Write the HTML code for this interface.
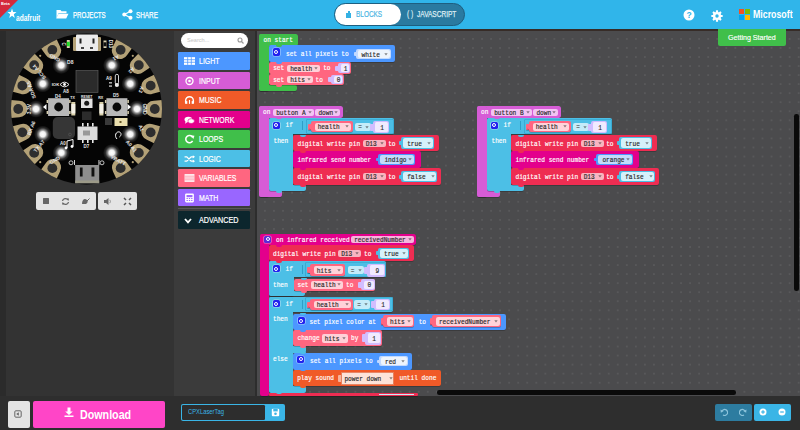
<!DOCTYPE html><html><head><meta charset="utf-8"><style>
html,body{margin:0;padding:0;width:800px;height:430px;overflow:hidden;background:#303030;}
body>div,body>span,body>svg{position:absolute;}
div,span{position:absolute;box-sizing:border-box;}
</style></head><body>
<div style="left:0px;top:0px;width:800px;height:29px;background:#30b5ea;border-radius:0px;"></div>
<svg style="left:0;top:0" width="20" height="20"><polygon points="0,0 18,0 0,18" fill="#d42a3c"/></svg>
<span style="left:1px;top:1px;color:#fff;font-size:4px;font-family:'Liberation Sans', sans-serif;white-space:pre;line-height:6px;height:6px;font-weight:bold;">Beta</span>
<svg style="left:6.8px;top:8.3px" width="10" height="11" viewBox="0 0 14 14" preserveAspectRatio="none"><polygon points="7,0.5 8.6,5 13.3,5.1 9.6,8 10.9,12.6 7,9.9 3.1,12.6 4.4,8 0.7,5.1 5.4,5" fill="#fff"/></svg>
<span style="left:16.2px;top:13.8px;color:#fff;font-size:8.8px;font-family:'Liberation Sans', sans-serif;white-space:pre;line-height:9px;height:9px;font-weight:bold;transform:scaleX(0.75);transform-origin:0 0;">adafruit</span>
<svg style="left:56px;top:9px" width="13" height="10" viewBox="0 0 13 10"><path d="M0.5,1 h4 l1,1.2 h5 v2 h-8 l-2,5 z" fill="#fff"/><path d="M2.5,4.8 h10 l-2.3,4.7 h-10 z" fill="#fff"/></svg>
<span style="left:73.3px;top:9.5px;color:#fff;font-size:8.4px;font-family:'Liberation Sans', sans-serif;white-space:pre;line-height:10px;height:10px;-webkit-text-stroke:0.25px #fff;transform:scaleX(0.73);transform-origin:0 0;">PROJECTS</span>
<svg style="left:122px;top:9px" width="11" height="11" viewBox="0 0 11 11"><circle cx="8.5" cy="2.2" r="2" fill="#fff"/><circle cx="2.3" cy="5.5" r="2" fill="#fff"/><circle cx="8.5" cy="8.8" r="2" fill="#fff"/><path d="M2.3,5.5 L8.5,2.2 M2.3,5.5 L8.5,8.8" stroke="#fff" stroke-width="1.2"/></svg>
<span style="left:136.3px;top:9.5px;color:#fff;font-size:8.4px;font-family:'Liberation Sans', sans-serif;white-space:pre;line-height:10px;height:10px;-webkit-text-stroke:0.25px #fff;transform:scaleX(0.76);transform-origin:0 0;">SHARE</span>
<div style="left:333.5px;top:3px;width:131px;height:23px;background:#2a7aa0;border-radius:11.5px;border:1px solid #1e5f80;"></div>
<div style="left:335px;top:4px;width:66px;height:21px;background:#fff;border-radius:10.5px;"></div>
<svg style="left:345px;top:10px" width="7" height="8" viewBox="0 0 7 8"><path d="M1,3 h2 v-2 h2 v2 h1 v5 h-5 z" fill="#34b1e3"/></svg>
<span style="left:355.9px;top:10px;color:#4db6e4;font-size:8.4px;font-family:'Liberation Sans', sans-serif;white-space:pre;line-height:9px;height:9px;-webkit-text-stroke:0.2px #4db6e4;transform:scaleX(0.77);transform-origin:0 0;">BLOCKS</span>
<span style="left:406.5px;top:10px;color:#dcebf2;font-size:8.4px;font-family:'Liberation Sans', sans-serif;white-space:pre;line-height:9px;height:9px;-webkit-text-stroke:0.2px #dcebf2;transform:scaleX(0.8);transform-origin:0 0;">( )</span>
<span style="left:416.6px;top:10px;color:#dcebf2;font-size:8.4px;font-family:'Liberation Sans', sans-serif;white-space:pre;line-height:9px;height:9px;-webkit-text-stroke:0.25px #dcebf2;transform:scaleX(0.78);transform-origin:0 0;">JAVASCRIPT</span>
<svg style="left:683px;top:9px" width="12" height="12" viewBox="0 0 12 12"><circle cx="6" cy="6" r="5.5" fill="#fff"/><text x="6" y="9.2" font-family="Liberation Sans" font-weight="bold" font-size="8.5" text-anchor="middle" fill="#30b5ea">?</text></svg>
<svg style="left:710.5px;top:9.5px" width="12" height="12" viewBox="0 0 12 12"><rect x="4.9" y="0.3" width="2.2" height="3" rx="0.5" fill="#fff" transform="rotate(0 6 6)"/><rect x="4.9" y="0.3" width="2.2" height="3" rx="0.5" fill="#fff" transform="rotate(45 6 6)"/><rect x="4.9" y="0.3" width="2.2" height="3" rx="0.5" fill="#fff" transform="rotate(90 6 6)"/><rect x="4.9" y="0.3" width="2.2" height="3" rx="0.5" fill="#fff" transform="rotate(135 6 6)"/><rect x="4.9" y="0.3" width="2.2" height="3" rx="0.5" fill="#fff" transform="rotate(180 6 6)"/><rect x="4.9" y="0.3" width="2.2" height="3" rx="0.5" fill="#fff" transform="rotate(225 6 6)"/><rect x="4.9" y="0.3" width="2.2" height="3" rx="0.5" fill="#fff" transform="rotate(270 6 6)"/><rect x="4.9" y="0.3" width="2.2" height="3" rx="0.5" fill="#fff" transform="rotate(315 6 6)"/><circle cx="6" cy="6" r="4.1" fill="#fff"/><circle cx="6" cy="6" r="1.7" fill="#30b5ea"/></svg>
<div style="left:738.5px;top:8.5px;width:5.5px;height:5.5px;background:#f25022;border-radius:0px;"></div>
<div style="left:744.5px;top:8.5px;width:5.5px;height:5.5px;background:#7fba00;border-radius:0px;"></div>
<div style="left:738.5px;top:14.5px;width:5.5px;height:5.5px;background:#00a4ef;border-radius:0px;"></div>
<div style="left:744.5px;top:14.5px;width:5.5px;height:5.5px;background:#ffb900;border-radius:0px;"></div>
<span style="left:752.6px;top:8.4px;color:#fff;font-size:11px;font-family:'Liberation Sans', sans-serif;white-space:pre;line-height:12px;height:12px;font-weight:bold;transform:scaleX(0.8);transform-origin:0 0;">Microsoft</span>
<div style="left:0px;top:29px;width:174px;height:367px;background:#333;border-radius:0px;"></div>
<div style="left:0px;top:29px;width:6px;height:367px;background:#2b2b2b;border-radius:0px;"></div>
<div style="left:174px;top:29px;width:81px;height:367px;background:#3b3b3b;border-radius:0px;"></div>
<div style="left:254.8px;top:29px;width:2.2px;height:367px;background:#2d2d2d;border-radius:0px;"></div>
<div style="left:257px;top:29px;width:543px;height:366.5px;background:#4b4b4d;border-radius:0px;background-image:radial-gradient(circle, rgba(255,255,255,0.075) 0.7px, transparent 1px);background-size:9.05px 9.05px;background-position:3.4px 5.4px;"></div>
<div style="left:0px;top:29px;width:800px;height:1.7px;background:#372c27;border-radius:0px;"></div>
<div style="left:181px;top:33px;width:67px;height:15px;background:#fff;border-radius:7.5px;"></div>
<span style="left:187px;top:37px;color:#c4c4c4;font-size:5.6px;font-family:'Liberation Sans', sans-serif;white-space:pre;line-height:7px;height:7px;">Search...</span>
<svg style="left:237px;top:37px" width="7" height="7" viewBox="0 0 7 7"><circle cx="3" cy="3" r="2" stroke="#999" stroke-width="1.1" fill="none"/><path d="M4.4,4.4 L6.5,6.5" stroke="#999" stroke-width="1.2"/></svg>
<div style="left:178.3px;top:52.0px;width:72px;height:17.5px;background:#4c97ff;border-radius:1.2px;"></div>
<span style="left:199.2px;top:57.0px;color:#fff;font-size:8.6px;font-family:'Liberation Sans', sans-serif;white-space:pre;line-height:9px;height:9px;-webkit-text-stroke:0.2px #fff;transform:scaleX(0.8133999999999999);transform-origin:0 0;">LIGHT</span>
<svg style="left:183.5px;top:57.3px" width="11" height="8" viewBox="0 0 10 7" overflow="visible"><rect x="0" y="0" width="10" height="7" fill="#fff"/><path d="M0,2.33 H10 M0,4.66 H10 M3.33,0 V7 M6.66,0 V7" stroke="#4c97ff" stroke-width="0.7"/></svg>
<div style="left:178.3px;top:71.5px;width:72px;height:17.5px;background:#d65cd6;border-radius:1.2px;"></div>
<span style="left:199.2px;top:76.5px;color:#fff;font-size:8.6px;font-family:'Liberation Sans', sans-serif;white-space:pre;line-height:9px;height:9px;-webkit-text-stroke:0.2px #fff;transform:scaleX(0.8133999999999999);transform-origin:0 0;">INPUT</span>
<svg style="left:183.5px;top:76.8px" width="11" height="8" viewBox="0 0 10 7" overflow="visible"><circle cx="5" cy="3.5" r="3.2" fill="none" stroke="#fff" stroke-width="1.2"/><circle cx="5" cy="3.5" r="1.2" fill="#fff"/></svg>
<div style="left:178.3px;top:91.0px;width:72px;height:17.5px;background:#f05a28;border-radius:1.2px;"></div>
<span style="left:199.2px;top:96.0px;color:#fff;font-size:8.6px;font-family:'Liberation Sans', sans-serif;white-space:pre;line-height:9px;height:9px;-webkit-text-stroke:0.2px #fff;transform:scaleX(0.8133999999999999);transform-origin:0 0;">MUSIC</span>
<svg style="left:183.5px;top:96.3px" width="11" height="8" viewBox="0 0 10 7" overflow="visible"><path d="M1.5,6 V4 A3.5,3.5 0 0 1 8.5,4 V6" fill="none" stroke="#fff" stroke-width="1.3"/><rect x="1" y="4.5" width="2" height="2.5" fill="#fff"/><rect x="7" y="4.5" width="2" height="2.5" fill="#fff"/><path d="M5,3.5 V7" stroke="#fff" stroke-width="1"/></svg>
<div style="left:178.3px;top:110.5px;width:72px;height:17.5px;background:#e3008c;border-radius:1.2px;"></div>
<span style="left:199.2px;top:115.5px;color:#fff;font-size:8.6px;font-family:'Liberation Sans', sans-serif;white-space:pre;line-height:9px;height:9px;-webkit-text-stroke:0.2px #fff;transform:scaleX(0.8036);transform-origin:0 0;">NETWORK</span>
<svg style="left:183.5px;top:115.8px" width="11" height="8" viewBox="0 0 10 7" overflow="visible"><ellipse cx="4" cy="3" rx="3.5" ry="2.5" fill="#fff"/><ellipse cx="6.5" cy="4.5" rx="3" ry="2.2" fill="#fff" stroke="#e3008c" stroke-width="0.6"/><polygon points="1.5,4.5 1,7 3.5,5" fill="#fff"/></svg>
<div style="left:178.3px;top:130.0px;width:72px;height:17.5px;background:#40bf4a;border-radius:1.2px;"></div>
<span style="left:199.2px;top:135.0px;color:#fff;font-size:8.6px;font-family:'Liberation Sans', sans-serif;white-space:pre;line-height:9px;height:9px;-webkit-text-stroke:0.2px #fff;transform:scaleX(0.8133999999999999);transform-origin:0 0;">LOOPS</span>
<svg style="left:183.5px;top:135.3px" width="11" height="8" viewBox="0 0 10 7" overflow="visible"><path d="M7.8,2 A3.3,3.3 0 1 0 7.8,5.2" fill="none" stroke="#fff" stroke-width="1.4"/><polygon points="6,0 9.5,0.5 8.5,3.5" fill="#fff"/></svg>
<div style="left:178.3px;top:149.5px;width:72px;height:17.5px;background:#4cbfe6;border-radius:1.2px;"></div>
<span style="left:199.2px;top:154.5px;color:#fff;font-size:8.6px;font-family:'Liberation Sans', sans-serif;white-space:pre;line-height:9px;height:9px;-webkit-text-stroke:0.2px #fff;transform:scaleX(0.8133999999999999);transform-origin:0 0;">LOGIC</span>
<svg style="left:183.5px;top:154.8px" width="11" height="8" viewBox="0 0 10 7" overflow="visible"><path d="M0.5,1.5 H2.5 L6.5,5.5 H8.5 M0.5,5.5 H2.5 L6.5,1.5 H8.5" fill="none" stroke="#fff" stroke-width="1.2"/><polygon points="8,0 10,1.5 8,3" fill="#fff"/><polygon points="8,4 10,5.5 8,7" fill="#fff"/></svg>
<div style="left:178.3px;top:169.0px;width:72px;height:17.5px;background:#ff6680;border-radius:1.2px;"></div>
<span style="left:199.2px;top:174.0px;color:#fff;font-size:8.6px;font-family:'Liberation Sans', sans-serif;white-space:pre;line-height:9px;height:9px;-webkit-text-stroke:0.2px #fff;transform:scaleX(0.7938000000000001);transform-origin:0 0;">VARIABLES</span>
<svg style="left:183.5px;top:174.3px" width="11" height="8" viewBox="0 0 10 7" overflow="visible"><rect x="0.5" y="0" width="9" height="7" fill="#fff"/><path d="M0.5,1.8 H9.5 M0.5,3.5 H9.5 M0.5,5.2 H9.5" stroke="#ff6680" stroke-width="0.6"/></svg>
<div style="left:178.3px;top:188.5px;width:72px;height:17.5px;background:#9966ff;border-radius:1.2px;"></div>
<span style="left:199.2px;top:193.5px;color:#fff;font-size:8.6px;font-family:'Liberation Sans', sans-serif;white-space:pre;line-height:9px;height:9px;-webkit-text-stroke:0.2px #fff;transform:scaleX(0.8133999999999999);transform-origin:0 0;">MATH</span>
<svg style="left:183.5px;top:193.8px" width="11" height="8" viewBox="0 0 10 7" overflow="visible"><rect x="1" y="-0.5" width="8" height="8" rx="1" fill="#fff"/><rect x="2.3" y="0.8" width="5.4" height="2" fill="#9966ff"/><path d="M2.3,4 h1.2 M4.4,4 h1.2 M6.5,4 h1.2 M2.3,5.8 h1.2 M4.4,5.8 h1.2 M6.5,5.8 h1.2" stroke="#9966ff" stroke-width="0.9"/></svg>
<div style="left:178px;top:208px;width:72.5px;height:1.3px;background:#585858;border-radius:0px;"></div>
<div style="left:178.3px;top:211.2px;width:72px;height:17.8px;background:#0c262d;border-radius:1.2px;"></div>
<span style="left:199px;top:216.2px;color:#fff;font-size:8.6px;font-family:'Liberation Sans', sans-serif;white-space:pre;line-height:9px;height:9px;-webkit-text-stroke:0.2px #fff;transform:scaleX(0.84);transform-origin:0 0;">ADVANCED</span>
<svg style="left:183.5px;top:217.5px" width="8" height="6" viewBox="0 0 8 6"><path d="M1,1 L4,4.3 L7,1" stroke="#fff" stroke-width="1.8" fill="none"/></svg>
<div style="left:35.5px;top:191.5px;width:60px;height:18.5px;background:#e4e4e4;border-radius:2px;"></div>
<div style="left:97.5px;top:191.5px;width:39.5px;height:18.5px;background:#e4e4e4;border-radius:2px;"></div>
<div style="left:42.5px;top:198px;width:6px;height:6px;background:#666;border-radius:0.5px;"></div>
<svg style="left:61px;top:197px" width="9" height="9" viewBox="0 0 9 9"><path d="M1.5,4 A3,3 0 0 1 7,3" stroke="#666" stroke-width="1.3" fill="none"/><path d="M7.5,5 A3,3 0 0 1 2,6" stroke="#666" stroke-width="1.3" fill="none"/><polygon points="5.5,1.5 8,1.5 7.5,4" fill="#666"/><polygon points="3.5,7.5 1,7.5 1.5,5" fill="#666"/></svg>
<svg style="left:81px;top:197px" width="9" height="8" viewBox="0 0 9 8"><path d="M1,7 C1,2 4,1 6,3 C7,4 7,6 5,7 z" fill="#666"/><path d="M6,4 L8.5,1.5" stroke="#666" stroke-width="1"/></svg>
<svg style="left:103px;top:197px" width="9" height="9" viewBox="0 0 9 9"><polygon points="1,3 3,3 5.5,1 5.5,8 3,6 1,6" fill="#666"/><path d="M6.8,2.8 Q8,4.5 6.8,6.2" stroke="#888" stroke-width="0.9" fill="none"/></svg>
<svg style="left:123px;top:197px" width="9" height="9" viewBox="0 0 9 9"><path d="M1,1 L3,3 M8,1 L6,3 M1,8 L3,6 M8,8 L6,6" stroke="#555" stroke-width="1.5"/></svg>
<div style="left:0px;top:395.5px;width:800px;height:34.5px;background:#2e2e2e;border-radius:0px;"></div>
<div style="left:7.5px;top:401px;width:22px;height:27px;background:#e4e4e4;border-radius:2px;"></div>
<svg style="left:14px;top:410px" width="8" height="8" viewBox="0 0 8 8"><rect x="0.8" y="0.8" width="6.4" height="6.4" rx="1" stroke="#666" stroke-width="1" fill="none"/><polygon points="2.2,4 4.8,2.2 4.8,5.8" fill="#666"/></svg>
<div style="left:32.5px;top:401px;width:132px;height:27px;background:#ff45c7;border-radius:2px;"></div>
<svg style="left:64px;top:407px" width="10" height="10" viewBox="0 0 10 10"><path d="M3.5,0.5 h3 v4 h2.3 L5,8 L1.2,4.5 h2.3 z" fill="#fff"/><rect x="0.5" y="8.5" width="9" height="1.5" fill="#fff"/></svg>
<span style="left:79.9px;top:407.5px;color:#fff;font-size:11.9px;font-family:'Liberation Sans', sans-serif;white-space:pre;line-height:14px;height:14px;font-weight:bold;transform:scaleX(0.9);transform-origin:0 0;">Download</span>
<div style="left:181px;top:403.5px;width:103.5px;height:17.5px;background:#3ab5e6;border-radius:2px;"></div>
<div style="left:182.3px;top:404.8px;width:82.5px;height:14.9px;background:#2d2d2d;border-radius:1.3px;"></div>
<span style="left:188px;top:408px;color:#3ab5e6;font-size:7.2px;font-family:'Liberation Sans', sans-serif;white-space:pre;line-height:8px;height:8px;transform:scaleX(0.81);transform-origin:0 0;">CPXLaserTag</span>
<svg style="left:270.5px;top:407.5px" width="9" height="9" viewBox="0 0 9 9"><rect x="0.8" y="0.8" width="7.4" height="7.4" rx="1" fill="#fff"/><rect x="2.3" y="0.8" width="4.4" height="2.6" fill="#3ab5e6"/><circle cx="4.5" cy="5.8" r="1.3" fill="#3ab5e6"/></svg>
<div style="left:715px;top:403.5px;width:37px;height:17px;background:#2d7ca0;border-radius:2px;"></div>
<div style="left:754px;top:403.5px;width:37px;height:17px;background:#3ab5e6;border-radius:2px;"></div>
<svg style="left:720px;top:408px" width="8" height="8" viewBox="0 0 8 8"><path d="M2,3 A3,3 0 1 1 3,7" stroke="#8cc4dc" stroke-width="1.2" fill="none"/><polygon points="0.5,1.5 3.5,3.2 0.8,4.8" fill="#8cc4dc"/></svg>
<svg style="left:739px;top:408px" width="8" height="8" viewBox="0 0 8 8"><path d="M6,3 A3,3 0 1 0 5,7" stroke="#8cc4dc" stroke-width="1.2" fill="none"/><polygon points="7.5,1.5 4.5,3.2 7.2,4.8" fill="#8cc4dc"/></svg>
<svg style="left:759px;top:408px" width="8" height="8" viewBox="0 0 8 8"><circle cx="4" cy="4" r="3.5" fill="#fff"/><rect x="2.2" y="3.4" width="3.6" height="1.2" fill="#3ab5e6"/><rect x="3.4" y="2.2" width="1.2" height="3.6" fill="#3ab5e6"/></svg>
<svg style="left:778px;top:408px" width="8" height="8" viewBox="0 0 8 8"><circle cx="4" cy="4" r="3.5" fill="#fff"/><rect x="2.2" y="3.4" width="3.6" height="1.2" fill="#3ab5e6"/></svg>
<div style="left:718px;top:29px;width:67.5px;height:16.5px;background:#40bf4a;border-radius:0px;border-radius:0 0 2px 2px;"></div>
<span style="left:727.8px;top:32.8px;color:#fff;font-size:7.9px;font-family:'Liberation Sans', sans-serif;white-space:pre;line-height:9px;height:9px;-webkit-text-stroke:0.15px #fff;transform:scaleX(0.9);transform-origin:0 0;">Getting Started</span>
<div style="left:437px;top:390.3px;width:299px;height:4.5px;background:#0a0a0a;border-radius:2.25px;"></div>
<div style="left:794.2px;top:114px;width:4.5px;height:177px;background:#0a0a0a;border-radius:2.25px;"></div>
<svg style="left:0;top:0" width="174" height="200" viewBox="0 0 174 200"><defs><radialGradient id="gl"><stop offset="0" stop-color="#fff"/><stop offset="0.3" stop-color="#f2f2f2"/><stop offset="0.48" stop-color="#fff" stop-opacity="0.55"/><stop offset="0.72" stop-color="#fff" stop-opacity="0.16"/><stop offset="1" stop-color="#fff" stop-opacity="0"/></radialGradient><clipPath id="bc"><circle cx="86.5" cy="109" r="75.5"/></clipPath></defs><circle cx="86.5" cy="109" r="75.5" fill="#050505"/><g clip-path="url(#bc)"><g transform="rotate(120 52.35 168.15)"><path d="M51.35,159.85 L64.35,158.65 L64.35,177.65 L51.35,176.45 A8.3,8.3 0 0 1 51.35,159.85 z" fill="#b3a177"/></g><circle cx="52.35" cy="168.15" r="4.9" fill="#2e2e2e"/><g transform="rotate(140 34.18 152.90)"><path d="M33.18,144.60 L46.18,143.40 L46.18,162.40 L33.18,161.20 A8.3,8.3 0 0 1 33.18,144.60 z" fill="#b3a177"/></g><circle cx="34.18" cy="152.90" r="4.9" fill="#2e2e2e"/><g transform="rotate(160 22.32 132.36)"><path d="M21.32,124.06 L34.32,122.86 L34.32,141.86 L21.32,140.66 A8.3,8.3 0 0 1 21.32,124.06 z" fill="#b3a177"/></g><circle cx="22.32" cy="132.36" r="4.9" fill="#2e2e2e"/><g transform="rotate(180 18.20 109.00)"><path d="M17.20,100.70 L30.20,99.50 L30.20,118.50 L17.20,117.30 A8.3,8.3 0 0 1 17.20,100.70 z" fill="#b3a177"/></g><circle cx="18.20" cy="109.00" r="4.9" fill="#2e2e2e"/><g transform="rotate(200 22.32 85.64)"><path d="M21.32,77.34 L34.32,76.14 L34.32,95.14 L21.32,93.94 A8.3,8.3 0 0 1 21.32,77.34 z" fill="#b3a177"/></g><circle cx="22.32" cy="85.64" r="4.9" fill="#2e2e2e"/><g transform="rotate(220 34.18 65.10)"><path d="M33.18,56.80 L46.18,55.60 L46.18,74.60 L33.18,73.40 A8.3,8.3 0 0 1 33.18,56.80 z" fill="#b3a177"/></g><circle cx="34.18" cy="65.10" r="4.9" fill="#2e2e2e"/><g transform="rotate(240 52.35 49.85)"><path d="M51.35,41.55 L64.35,40.35 L64.35,59.35 L51.35,58.15 A8.3,8.3 0 0 1 51.35,41.55 z" fill="#b3a177"/></g><circle cx="52.35" cy="49.85" r="4.9" fill="#2e2e2e"/><g transform="rotate(300 120.65 49.85)"><path d="M119.65,41.55 L132.65,40.35 L132.65,59.35 L119.65,58.15 A8.3,8.3 0 0 1 119.65,41.55 z" fill="#b3a177"/></g><circle cx="120.65" cy="49.85" r="4.9" fill="#2e2e2e"/><g transform="rotate(320 138.82 65.10)"><path d="M137.82,56.80 L150.82,55.60 L150.82,74.60 L137.82,73.40 A8.3,8.3 0 0 1 137.82,56.80 z" fill="#b3a177"/></g><circle cx="138.82" cy="65.10" r="4.9" fill="#2e2e2e"/><g transform="rotate(340 150.68 85.64)"><path d="M149.68,77.34 L162.68,76.14 L162.68,95.14 L149.68,93.94 A8.3,8.3 0 0 1 149.68,77.34 z" fill="#b3a177"/></g><circle cx="150.68" cy="85.64" r="4.9" fill="#2e2e2e"/><g transform="rotate(0 154.80 109.00)"><path d="M153.80,100.70 L166.80,99.50 L166.80,118.50 L153.80,117.30 A8.3,8.3 0 0 1 153.80,100.70 z" fill="#b3a177"/></g><circle cx="154.80" cy="109.00" r="4.9" fill="#2e2e2e"/><g transform="rotate(20 150.68 132.36)"><path d="M149.68,124.06 L162.68,122.86 L162.68,141.86 L149.68,140.66 A8.3,8.3 0 0 1 149.68,124.06 z" fill="#b3a177"/></g><circle cx="150.68" cy="132.36" r="4.9" fill="#2e2e2e"/><g transform="rotate(40 138.82 152.90)"><path d="M137.82,144.60 L150.82,143.40 L150.82,162.40 L137.82,161.20 A8.3,8.3 0 0 1 137.82,144.60 z" fill="#b3a177"/></g><circle cx="138.82" cy="152.90" r="4.9" fill="#2e2e2e"/><g transform="rotate(60 120.65 168.15)"><path d="M119.65,159.85 L132.65,158.65 L132.65,177.65 L119.65,176.45 A8.3,8.3 0 0 1 119.65,159.85 z" fill="#b3a177"/></g><circle cx="120.65" cy="168.15" r="4.9" fill="#2e2e2e"/></g><circle cx="61.25" cy="152.73" r="8.8" fill="url(#gl)"/><circle cx="42.77" cy="134.25" r="8.8" fill="url(#gl)"/><circle cx="36.00" cy="109.00" r="8.8" fill="url(#gl)"/><circle cx="42.77" cy="83.75" r="8.8" fill="url(#gl)"/><circle cx="61.25" cy="65.27" r="8.8" fill="url(#gl)"/><circle cx="111.75" cy="65.27" r="8.8" fill="url(#gl)"/><circle cx="130.23" cy="83.75" r="8.8" fill="url(#gl)"/><circle cx="137.00" cy="109.00" r="8.8" fill="url(#gl)"/><circle cx="130.23" cy="134.25" r="8.8" fill="url(#gl)"/><circle cx="111.75" cy="152.73" r="8.8" fill="url(#gl)"/><circle cx="132.8" cy="55.8" r="1.1" fill="#b3a177"/><circle cx="40.2" cy="55.8" r="1.1" fill="#b3a177"/><circle cx="40.2" cy="162.2" r="1.1" fill="#b3a177"/><circle cx="132.8" cy="162.2" r="1.1" fill="#b3a177"/><rect x="73" y="37" width="28" height="14" fill="#b3a177" rx="1"/><rect x="76" y="34.5" width="22" height="16.5" fill="#ececec" rx="1"/><rect x="79.5" y="38.5" width="2" height="5" fill="#222"/><rect x="92.5" y="38.5" width="2" height="5" fill="#222"/><rect x="81" y="47" width="3" height="2" fill="#444"/><rect x="90" y="47" width="3" height="2" fill="#444"/><rect x="66.8" y="40" width="3" height="8" fill="#d8cfb0"/><rect x="66.8" y="41.8" width="3" height="4.4" fill="#22e02a"/><rect x="103.5" y="40.5" width="3" height="7.5" fill="#d8cfb0"/><rect x="103.5" y="42.3" width="3" height="4" fill="#111"/><rect x="76" y="70.5" width="22" height="22" fill="#2b2b2b" stroke="#5a5a5a" stroke-width="0.7"/><rect x="48.1" y="98.2" width="21" height="17.8" fill="#b8b8b8"/><rect x="46.6" y="100" width="1.5" height="3" fill="#d8cfb0"/><rect x="46.6" y="111" width="1.5" height="3" fill="#d8cfb0"/><rect x="69.1" y="100" width="1.5" height="3" fill="#d8cfb0"/><rect x="69.1" y="111" width="1.5" height="3" fill="#d8cfb0"/><circle cx="58.6" cy="107" r="4.4" fill="#0a0a0a"/><rect x="106.4" y="98.2" width="21" height="17.8" fill="#b8b8b8"/><rect x="104.9" y="100" width="1.5" height="3" fill="#d8cfb0"/><rect x="104.9" y="111" width="1.5" height="3" fill="#d8cfb0"/><rect x="127.4" y="100" width="1.5" height="3" fill="#d8cfb0"/><rect x="127.4" y="111" width="1.5" height="3" fill="#d8cfb0"/><circle cx="116.9" cy="107" r="4.4" fill="#0a0a0a"/><polygon points="43,107 46.5,104 46.5,110" fill="#fff"/><polygon points="131,107 127.5,104 127.5,110" fill="#fff"/><rect x="81" y="98.5" width="11.5" height="9.5" fill="#e2e2e2"/><circle cx="86.7" cy="103.2" r="2.5" fill="#1a1a1a"/><rect x="71.3" y="102" width="4" height="13.5" fill="#d8cfa8"/><rect x="71.3" y="104" width="4" height="9.5" fill="#f3f0e6"/><rect x="99.4" y="102" width="4" height="13.5" fill="#d8cfa8"/><rect x="99.4" y="104" width="4" height="9.5" fill="#f3f0e6"/><rect x="52.8" y="117" width="22.2" height="22" rx="5" fill="#363636"/><circle cx="70" cy="134.5" r="1.4" fill="none" stroke="#5a5a5a" stroke-width="0.6"/><rect x="82" y="111.5" width="9.5" height="8.5" fill="#2c2c2c"/><rect x="105" y="118" width="7" height="7" fill="#3a3a3a"/><rect x="114.5" y="118" width="13" height="8" fill="#eadfae"/><rect x="119.5" y="121" width="2" height="2" fill="#6a5a2a"/><rect x="77.5" y="126.5" width="20" height="13.5" fill="#dcdcdc"/><rect x="82" y="123" width="1.6" height="3.5" fill="#e8e8e8"/><rect x="87" y="123" width="1.6" height="3.5" fill="#e8e8e8"/><rect x="92" y="123" width="1.6" height="3.5" fill="#e8e8e8"/><rect x="82" y="140" width="1.6" height="3" fill="#e8e8e8"/><rect x="87" y="140" width="1.6" height="3" fill="#e8e8e8"/><rect x="92" y="140" width="1.6" height="3" fill="#e8e8e8"/><rect x="83" y="130.5" width="7" height="5" fill="#999"/><rect x="115.3" y="74.3" width="3.2" height="10" rx="1.6" fill="none" stroke="#e8e8e8" stroke-width="0.9"/><circle cx="116.9" cy="85" r="2.1" fill="#e8e8e8"/><rect x="109" y="82" width="3" height="1.6" fill="#aaa"/><rect x="109" y="85.3" width="3" height="1.6" fill="#aaa"/><path d="M60,84.5 Q64.5,79.8 69,84.5 Q64.5,89.2 60,84.5 z" fill="none" stroke="#fff" stroke-width="0.9"/><circle cx="64.5" cy="84.5" r="1.4" fill="#fff"/><path d="M117,139 C114,136 116,131 119.5,132 C122,133 121,136 119.5,137" fill="none" stroke="#fff" stroke-width="1"/><path d="M67,148 L67,141 L73,139.5 L73,146.5" fill="none" stroke="#fff" stroke-width="1"/><circle cx="66" cy="148" r="1.4" fill="#fff"/><circle cx="72" cy="146.5" r="1.4" fill="#fff"/><rect x="75.2" y="165" width="24" height="18.2" fill="#8e8e8e"/><rect x="79.9" y="167.5" width="2.7" height="9" fill="#111"/><rect x="91.5" y="167.5" width="2.9" height="9" fill="#111"/><rect x="75.2" y="180.5" width="24" height="2.7" fill="#9c9a88"/><circle cx="71" cy="162.8" r="2" fill="none" stroke="#eee" stroke-width="0.8"/><rect x="74" y="160" width="0.9" height="5" fill="#eee"/><circle cx="102" cy="162.8" r="2" fill="none" stroke="#eee" stroke-width="0.8"/><rect x="98.5" y="160" width="0.9" height="5" fill="#eee"/><text x="54.7" y="58" font-family="Liberation Sans" font-weight="bold" font-size="5" fill="#e8e8e8" text-anchor="middle" dominant-baseline="central" transform="rotate(210 54.7 58)">GND</text><text x="39" y="72" font-family="Liberation Sans" font-weight="bold" font-size="5" fill="#e8e8e8" text-anchor="middle" dominant-baseline="central" transform="rotate(230 39 72)">SCL A4</text><text x="31" y="90" font-family="Liberation Sans" font-weight="bold" font-size="5" fill="#e8e8e8" text-anchor="middle" dominant-baseline="central" transform="rotate(250 31 90)">SDA A5</text><text x="28.5" y="109" font-family="Liberation Sans" font-weight="bold" font-size="5" fill="#e8e8e8" text-anchor="middle" dominant-baseline="central" transform="rotate(270 28.5 109)">3.3V</text><text x="31" y="128" font-family="Liberation Sans" font-weight="bold" font-size="5" fill="#e8e8e8" text-anchor="middle" dominant-baseline="central" transform="rotate(290 31 128)">RX A6</text><text x="39" y="146" font-family="Liberation Sans" font-weight="bold" font-size="5" fill="#e8e8e8" text-anchor="middle" dominant-baseline="central" transform="rotate(310 39 146)">TX A7</text><text x="54.7" y="160" font-family="Liberation Sans" font-weight="bold" font-size="5" fill="#e8e8e8" text-anchor="middle" dominant-baseline="central" transform="rotate(330 54.7 160)">GND</text><text x="116" y="58" font-family="Liberation Sans" font-weight="bold" font-size="5" fill="#e8e8e8" text-anchor="middle" dominant-baseline="central" transform="rotate(150 116 58)">A1</text><text x="131.6" y="70.5" font-family="Liberation Sans" font-weight="bold" font-size="5" fill="#e8e8e8" text-anchor="middle" dominant-baseline="central" transform="rotate(130 131.6 70.5)">A2</text><text x="141.5" y="89.7" font-family="Liberation Sans" font-weight="bold" font-size="5" fill="#e8e8e8" text-anchor="middle" dominant-baseline="central" transform="rotate(110 141.5 89.7)">A3</text><text x="145" y="109" font-family="Liberation Sans" font-weight="bold" font-size="5" fill="#e8e8e8" text-anchor="middle" dominant-baseline="central" transform="rotate(90 145 109)">GND</text><text x="141.5" y="128" font-family="Liberation Sans" font-weight="bold" font-size="5" fill="#e8e8e8" text-anchor="middle" dominant-baseline="central" transform="rotate(70 141.5 128)">A1</text><text x="131.6" y="146" font-family="Liberation Sans" font-weight="bold" font-size="5" fill="#e8e8e8" text-anchor="middle" dominant-baseline="central" transform="rotate(50 131.6 146)">A0 A1</text><text x="118.3" y="160" font-family="Liberation Sans" font-weight="bold" font-size="5" fill="#e8e8e8" text-anchor="middle" dominant-baseline="central" transform="rotate(30 118.3 160)">VBATT</text><text x="70.3" y="61.5" font-family="Liberation Sans" font-weight="bold" font-size="5" fill="#e8e8e8" text-anchor="middle" dominant-baseline="central" transform="rotate(0 70.3 61.5)">D8</text><text x="55.5" y="84.5" font-family="Liberation Sans" font-weight="bold" font-size="4.3" fill="#e8e8e8" text-anchor="middle" dominant-baseline="central" transform="rotate(0 55.5 84.5)">IOK</text><text x="66" y="91" font-family="Liberation Sans" font-weight="bold" font-size="4.5" fill="#e8e8e8" text-anchor="middle" dominant-baseline="central" transform="rotate(0 66 91)">A8</text><text x="58" y="96" font-family="Liberation Sans" font-weight="bold" font-size="4.5" fill="#e8e8e8" text-anchor="middle" dominant-baseline="central" transform="rotate(0 58 96)">D4</text><text x="116" y="95.5" font-family="Liberation Sans" font-weight="bold" font-size="4.5" fill="#e8e8e8" text-anchor="middle" dominant-baseline="central" transform="rotate(0 116 95.5)">D5</text><text x="72.6" y="97.5" font-family="Liberation Sans" font-weight="bold" font-size="3.6" fill="#e8e8e8" text-anchor="middle" dominant-baseline="central" transform="rotate(0 72.6 97.5)">TX</text><text x="86.7" y="96.5" font-family="Liberation Sans" font-weight="bold" font-size="3.4" fill="#e8e8e8" text-anchor="middle" dominant-baseline="central" transform="rotate(0 86.7 96.5)">RESET</text><text x="100.7" y="97.5" font-family="Liberation Sans" font-weight="bold" font-size="3.6" fill="#e8e8e8" text-anchor="middle" dominant-baseline="central" transform="rotate(0 100.7 97.5)">RX</text><text x="108.8" y="78.3" font-family="Liberation Sans" font-weight="bold" font-size="4.5" fill="#e8e8e8" text-anchor="middle" dominant-baseline="central" transform="rotate(0 108.8 78.3)">A9</text><text x="63" y="143" font-family="Liberation Sans" font-weight="bold" font-size="4.5" fill="#e8e8e8" text-anchor="middle" dominant-baseline="central" transform="rotate(0 63 143)">A0</text><text x="86.5" y="146.5" font-family="Liberation Sans" font-weight="bold" font-size="4.5" fill="#e8e8e8" text-anchor="middle" dominant-baseline="central" transform="rotate(0 86.5 146.5)">D7</text><text x="63.5" y="44" font-family="Liberation Sans" font-weight="bold" font-size="4.5" fill="#e8e8e8" text-anchor="middle" dominant-baseline="central" transform="rotate(90 63.5 44)">C</text><text x="110" y="44" font-family="Liberation Sans" font-weight="bold" font-size="4.5" fill="#e8e8e8" text-anchor="middle" dominant-baseline="central" transform="rotate(90 110 44)">D13</text></svg>
<div style="left:259px;top:33.5px;width:38.5px;height:12px;background:#40bf4a;border-radius:2.5px;box-shadow:0 0.7px 0 rgba(0,0,0,0.28);"></div>
<div style="left:259px;top:33.5px;width:9.8px;height:57.5px;background:#40bf4a;border-radius:2px;box-shadow:0 0.7px 0 rgba(0,0,0,0.28);"></div>
<div style="left:259px;top:85.2px;width:38.19999999999999px;height:5.8px;background:#40bf4a;border-radius:2px;box-shadow:0 0.7px 0 rgba(0,0,0,0.28);"></div>
<span style="left:263.5px;top:36.8px;color:#fff;font-size:6.15px;font-family:'Liberation Mono', monospace;white-space:pre;line-height:8px;height:8px;font-weight:normal;transform:scaleY(1.22);-webkit-text-stroke:0.15px #fff;">on start</span>
<div style="left:268.7px;top:45.4px;width:126.30000000000001px;height:16.8px;background:#4c97ff;border-radius:2px;box-shadow:0 0.7px 0 rgba(0,0,0,0.28);"></div>
<div style="left:272.6px;top:48.4px;width:7.2px;height:7.2px;background:#2222ee;border-radius:1.6px;box-shadow:0 0 0 0.6px rgba(255,255,255,0.5);"></div>
<div style="left:274.1px;top:49.9px;width:4.2px;height:4.2px;border:1.1px solid #fff;border-radius:50%"></div>
<span style="left:286px;top:51.2px;color:#fff;font-size:6.15px;font-family:'Liberation Mono', monospace;white-space:pre;line-height:8px;height:8px;font-weight:normal;transform:scaleY(1.22);-webkit-text-stroke:0.15px #fff;">set all pixels to</span>
<div style="left:353.5px;top:52.1px;width:3px;height:3.799999999999997px;background:#c2d9ff;border-radius:1px;"></div>
<div style="left:355.5px;top:48.6px;width:35.0px;height:10.799999999999997px;background:#c2d9ff;border-radius:2px;"></div>
<div style="left:357.5px;top:49.6px;width:32.0px;height:8.799999999999997px;background:#eef4fc;border-radius:2px;"></div>
<span style="left:361.5px;top:51.7px;color:#2a2a2a;font-size:6.15px;font-family:'Liberation Mono', monospace;white-space:pre;line-height:8px;height:8px;font-weight:normal;transform:scaleY(1.22);-webkit-text-stroke:0.15px #2a2a2a;">white</span>
<svg style="left:383.7px;top:52.8px" width="4" height="3" viewBox="0 0 4 3"><polygon points="0.3,0.3 3.7,0.3 2,2.6" fill="#2a2a2a" opacity="0.55"/></svg>
<div style="left:268.7px;top:62.2px;width:82.30000000000001px;height:11.6px;background:#ff6680;border-radius:2px;box-shadow:0 0.7px 0 rgba(0,0,0,0.28);"></div>
<span style="left:273.2px;top:65px;color:#fff;font-size:6.15px;font-family:'Liberation Mono', monospace;white-space:pre;line-height:8px;height:8px;font-weight:normal;transform:scaleY(1.22);-webkit-text-stroke:0.15px #fff;">set</span>
<div style="left:287px;top:64.6px;width:33px;height:7.0px;background:#ffd0d8;border-radius:2px;"></div>
<span style="left:290.2px;top:65.8px;color:#2a2a2a;font-size:6.15px;font-family:'Liberation Mono', monospace;white-space:pre;line-height:8px;height:8px;font-weight:normal;transform:scaleY(1.22);-webkit-text-stroke:0.15px #2a2a2a;">health</span>
<svg style="left:314.2px;top:66.89999999999999px" width="4" height="3" viewBox="0 0 4 3"><polygon points="0.3,0.3 3.7,0.3 2,2.6" fill="#2a2a2a" opacity="0.55"/></svg>
<span style="left:323.2px;top:65px;color:#fff;font-size:6.15px;font-family:'Liberation Mono', monospace;white-space:pre;line-height:8px;height:8px;font-weight:normal;transform:scaleY(1.22);-webkit-text-stroke:0.15px #fff;">to</span>
<div style="left:335.4px;top:65.6px;width:4px;height:5.100000000000001px;background:#d2bdff;border-radius:1px;"></div>
<div style="left:338.4px;top:63.1px;width:12.0px;height:10.100000000000001px;background:#d2bdff;border-radius:2px;"></div>
<div style="left:340.9px;top:64.4px;width:8.5px;height:7.500000000000002px;background:#f1eaff;border-radius:1.5px;"></div>
<span style="left:343.79999999999995px;top:65.65px;color:#2a2a2a;font-size:6.15px;font-family:'Liberation Mono', monospace;white-space:pre;line-height:8px;height:8px;font-weight:normal;transform:scaleY(1.22);-webkit-text-stroke:0.15px #2a2a2a;">1</span>
<div style="left:268.7px;top:73.8px;width:75.30000000000001px;height:11.7px;background:#ff6680;border-radius:2px;box-shadow:0 0.7px 0 rgba(0,0,0,0.28);"></div>
<span style="left:273.2px;top:76.6px;color:#fff;font-size:6.15px;font-family:'Liberation Mono', monospace;white-space:pre;line-height:8px;height:8px;font-weight:normal;transform:scaleY(1.22);-webkit-text-stroke:0.15px #fff;">set</span>
<div style="left:287px;top:76px;width:25.600000000000023px;height:7.299999999999997px;background:#ffd0d8;border-radius:2px;"></div>
<span style="left:290.2px;top:77.35000000000001px;color:#2a2a2a;font-size:6.15px;font-family:'Liberation Mono', monospace;white-space:pre;line-height:8px;height:8px;font-weight:normal;transform:scaleY(1.22);-webkit-text-stroke:0.15px #2a2a2a;">hits</span>
<svg style="left:306.8px;top:78.45px" width="4" height="3" viewBox="0 0 4 3"><polygon points="0.3,0.3 3.7,0.3 2,2.6" fill="#2a2a2a" opacity="0.55"/></svg>
<span style="left:315.6px;top:76.6px;color:#fff;font-size:6.15px;font-family:'Liberation Mono', monospace;white-space:pre;line-height:8px;height:8px;font-weight:normal;transform:scaleY(1.22);-webkit-text-stroke:0.15px #fff;">to</span>
<div style="left:328.2px;top:77.3px;width:4px;height:4.700000000000003px;background:#d2bdff;border-radius:1px;"></div>
<div style="left:331.2px;top:74.8px;width:12.300000000000011px;height:9.700000000000003px;background:#d2bdff;border-radius:2px;"></div>
<div style="left:333.7px;top:76.1px;width:8.800000000000011px;height:7.100000000000003px;background:#f1eaff;border-radius:1.5px;"></div>
<span style="left:336.75px;top:77.15px;color:#2a2a2a;font-size:6.15px;font-family:'Liberation Mono', monospace;white-space:pre;line-height:8px;height:8px;font-weight:normal;transform:scaleY(1.22);-webkit-text-stroke:0.15px #2a2a2a;">0</span>
<div style="left:259.4px;top:106.25px;width:83.60000000000002px;height:11.5px;background:#d65cd6;border-radius:2.5px;box-shadow:0 0.7px 0 rgba(0,0,0,0.28);"></div>
<div style="left:259.4px;top:106.25px;width:9.5px;height:90.6px;background:#d65cd6;border-radius:2px;box-shadow:0 0.7px 0 rgba(0,0,0,0.28);"></div>
<div style="left:259.4px;top:188.5px;width:22.600000000000023px;height:8.4px;background:#d65cd6;border-radius:2px;box-shadow:0 0.7px 0 rgba(0,0,0,0.28);"></div>
<span style="left:263px;top:109px;color:#fff;font-size:6.15px;font-family:'Liberation Mono', monospace;white-space:pre;line-height:8px;height:8px;font-weight:normal;transform:scaleY(1.22);-webkit-text-stroke:0.15px #fff;">on</span>
<div style="left:273px;top:108.6px;width:40.5px;height:7.400000000000006px;background:#f3c4f3;border-radius:2px;"></div>
<span style="left:276.2px;top:110.0px;color:#2a2a2a;font-size:6.15px;font-family:'Liberation Mono', monospace;white-space:pre;line-height:8px;height:8px;font-weight:normal;transform:scaleY(1.22);-webkit-text-stroke:0.15px #2a2a2a;">button A</span>
<svg style="left:307.7px;top:111.1px" width="4" height="3" viewBox="0 0 4 3"><polygon points="0.3,0.3 3.7,0.3 2,2.6" fill="#2a2a2a" opacity="0.55"/></svg>
<div style="left:315.2px;top:108.6px;width:25.0px;height:7.400000000000006px;background:#f3c4f3;border-radius:2px;"></div>
<span style="left:318.4px;top:110.0px;color:#2a2a2a;font-size:6.15px;font-family:'Liberation Mono', monospace;white-space:pre;line-height:8px;height:8px;font-weight:normal;transform:scaleY(1.22);-webkit-text-stroke:0.15px #2a2a2a;">down</span>
<svg style="left:334.4px;top:111.1px" width="4" height="3" viewBox="0 0 4 3"><polygon points="0.3,0.3 3.7,0.3 2,2.6" fill="#2a2a2a" opacity="0.55"/></svg>
<div style="left:268.75px;top:117.5px;width:125.25px;height:16.5px;background:#4cbfe6;border-radius:2px;box-shadow:0 0.7px 0 rgba(0,0,0,0.28);"></div>
<div style="left:268.75px;top:117.5px;width:23.75px;height:72.5px;background:#4cbfe6;border-radius:2px;box-shadow:0 0.7px 0 rgba(0,0,0,0.28);"></div>
<div style="left:268.75px;top:184.5px;width:37.25px;height:6.3px;background:#4cbfe6;border-radius:2px;box-shadow:0 0.7px 0 rgba(0,0,0,0.28);"></div>
<div style="left:272.6px;top:121.5px;width:7.2px;height:7.2px;background:#2222ee;border-radius:1.6px;box-shadow:0 0 0 0.6px rgba(255,255,255,0.5);"></div>
<div style="left:274.1px;top:123.0px;width:4.2px;height:4.2px;border:1.1px solid #fff;border-radius:50%"></div>
<span style="left:285.5px;top:122px;color:#fff;font-size:6.15px;font-family:'Liberation Mono', monospace;white-space:pre;line-height:8px;height:8px;font-weight:normal;transform:scaleY(1.22);-webkit-text-stroke:0.15px #fff;">if</span>
<div style="left:302px;top:121px;width:0.8px;height:9px;background:#2e9fc7;border-radius:0px;"></div>
<div style="left:305.5px;top:118.8px;width:88.5px;height:15.2px;background:#4cbfe6;border-radius:2px;box-shadow:0 0.7px 0 rgba(0,0,0,0.28);box-shadow:inset 0 0 0 0.6px #2e9fc7;"></div>
<div style="left:308px;top:123.5px;width:4px;height:6px;background:#ff6680;border-radius:1px;box-shadow:0 0.7px 0 rgba(0,0,0,0.28);"></div>
<div style="left:308.5px;top:123.8px;width:4px;height:5.700000000000003px;background:#ff6680;border-radius:1px;box-shadow:0 0.7px 0 rgba(0,0,0,0.28);"></div>
<div style="left:311px;top:120.8px;width:41.5px;height:11.700000000000003px;background:#ff6680;border-radius:2px;box-shadow:0 0.7px 0 rgba(0,0,0,0.28);"></div>
<div style="left:314.5px;top:122.7px;width:36.19999999999999px;height:7.8999999999999915px;background:#ffd3da;border-radius:2px;"></div>
<span style="left:317.7px;top:124.35000000000001px;color:#2a2a2a;font-size:6.15px;font-family:'Liberation Mono', monospace;white-space:pre;line-height:8px;height:8px;font-weight:normal;transform:scaleY(1.22);-webkit-text-stroke:0.15px #2a2a2a;">health</span>
<svg style="left:344.9px;top:125.45px" width="4" height="3" viewBox="0 0 4 3"><polygon points="0.3,0.3 3.7,0.3 2,2.6" fill="#2a2a2a" opacity="0.55"/></svg>
<div style="left:355px;top:122.5px;width:15.5px;height:8.5px;background:#c4ecf9;border-radius:2px;"></div>
<span style="left:358.2px;top:124.45px;color:#2a2a2a;font-size:6.15px;font-family:'Liberation Mono', monospace;white-space:pre;line-height:8px;height:8px;font-weight:normal;transform:scaleY(1.22);-webkit-text-stroke:0.15px #2a2a2a;">=</span>
<svg style="left:364.7px;top:125.55px" width="4" height="3" viewBox="0 0 4 3"><polygon points="0.3,0.3 3.7,0.3 2,2.6" fill="#2a2a2a" opacity="0.55"/></svg>
<div style="left:369.5px;top:123.5px;width:4px;height:7px;background:#d2bdff;border-radius:1px;"></div>
<div style="left:372.5px;top:121px;width:16.5px;height:12px;background:#d2bdff;border-radius:2px;"></div>
<div style="left:375.0px;top:122.3px;width:13.0px;height:9.4px;background:#f1eaff;border-radius:1.5px;"></div>
<span style="left:380.15px;top:124.5px;color:#2a2a2a;font-size:6.15px;font-family:'Liberation Mono', monospace;white-space:pre;line-height:8px;height:8px;font-weight:normal;transform:scaleY(1.22);-webkit-text-stroke:0.15px #2a2a2a;">1</span>
<span style="left:273.5px;top:138px;color:#fff;font-size:6.15px;font-family:'Liberation Mono', monospace;white-space:pre;line-height:8px;height:8px;font-weight:normal;transform:scaleY(1.22);-webkit-text-stroke:0.15px #fff;">then</span>
<div style="left:292.5px;top:135px;width:146.5px;height:16px;background:#ee2d52;border-radius:2px;box-shadow:0 0.7px 0 rgba(0,0,0,0.28);"></div>
<span style="left:297.5px;top:140.5px;color:#fff;font-size:6.15px;font-family:'Liberation Mono', monospace;white-space:pre;line-height:8px;height:8px;font-weight:normal;transform:scaleY(1.22);-webkit-text-stroke:0.15px #fff;">digital write pin</span>
<div style="left:362.5px;top:139.5px;width:23.0px;height:7.699999999999989px;background:#f8b4c0;border-radius:2px;"></div>
<span style="left:365.7px;top:141.04999999999998px;color:#2a2a2a;font-size:6.15px;font-family:'Liberation Mono', monospace;white-space:pre;line-height:8px;height:8px;font-weight:normal;transform:scaleY(1.22);-webkit-text-stroke:0.15px #2a2a2a;">D13</span>
<svg style="left:379.7px;top:142.15px" width="4" height="3" viewBox="0 0 4 3"><polygon points="0.3,0.3 3.7,0.3 2,2.6" fill="#2a2a2a" opacity="0.55"/></svg>
<span style="left:388.2px;top:140.5px;color:#fff;font-size:6.15px;font-family:'Liberation Mono', monospace;white-space:pre;line-height:8px;height:8px;font-weight:normal;transform:scaleY(1.22);-webkit-text-stroke:0.15px #fff;">to</span>
<div style="left:399.2px;top:140.75px;width:3px;height:4.349999999999994px;background:#4cbfe6;border-radius:1px;"></div>
<div style="left:401.2px;top:137.25px;width:32.900000000000034px;height:11.349999999999994px;background:#4cbfe6;border-radius:2px;"></div>
<div style="left:403.2px;top:138.25px;width:29.900000000000034px;height:9.349999999999994px;background:#d6f1fa;border-radius:2px;"></div>
<span style="left:407.2px;top:140.625px;color:#2a2a2a;font-size:6.15px;font-family:'Liberation Mono', monospace;white-space:pre;line-height:8px;height:8px;font-weight:normal;transform:scaleY(1.22);-webkit-text-stroke:0.15px #2a2a2a;">true</span>
<svg style="left:427.3px;top:141.72500000000002px" width="4" height="3" viewBox="0 0 4 3"><polygon points="0.3,0.3 3.7,0.3 2,2.6" fill="#2a2a2a" opacity="0.55"/></svg>
<div style="left:292.5px;top:151px;width:128.5px;height:17px;background:#e3008c;border-radius:2px;box-shadow:0 0.7px 0 rgba(0,0,0,0.28);"></div>
<span style="left:297.5px;top:156.5px;color:#fff;font-size:6.15px;font-family:'Liberation Mono', monospace;white-space:pre;line-height:8px;height:8px;font-weight:normal;transform:scaleY(1.22);-webkit-text-stroke:0.15px #fff;">infrared send number</span>
<div style="left:376.4px;top:157.9px;width:3px;height:3.5px;background:#4c97ff;border-radius:1px;"></div>
<div style="left:378.4px;top:154.4px;width:36.80000000000001px;height:10.5px;background:#4c97ff;border-radius:2px;"></div>
<div style="left:380.4px;top:155.4px;width:33.80000000000001px;height:8.5px;background:#c3dbfb;border-radius:2px;"></div>
<span style="left:384.4px;top:157.35px;color:#2a2a2a;font-size:6.15px;font-family:'Liberation Mono', monospace;white-space:pre;line-height:8px;height:8px;font-weight:normal;transform:scaleY(1.22);-webkit-text-stroke:0.15px #2a2a2a;">indigo</span>
<svg style="left:408.4px;top:158.45000000000002px" width="4" height="3" viewBox="0 0 4 3"><polygon points="0.3,0.3 3.7,0.3 2,2.6" fill="#2a2a2a" opacity="0.55"/></svg>
<div style="left:292.5px;top:168px;width:148.5px;height:17px;background:#ee2d52;border-radius:2px;box-shadow:0 0.7px 0 rgba(0,0,0,0.28);"></div>
<span style="left:297.5px;top:173.5px;color:#fff;font-size:6.15px;font-family:'Liberation Mono', monospace;white-space:pre;line-height:8px;height:8px;font-weight:normal;transform:scaleY(1.22);-webkit-text-stroke:0.15px #fff;">digital write pin</span>
<div style="left:362.5px;top:172.5px;width:23.0px;height:7.699999999999989px;background:#f8b4c0;border-radius:2px;"></div>
<span style="left:365.7px;top:174.04999999999998px;color:#2a2a2a;font-size:6.15px;font-family:'Liberation Mono', monospace;white-space:pre;line-height:8px;height:8px;font-weight:normal;transform:scaleY(1.22);-webkit-text-stroke:0.15px #2a2a2a;">D13</span>
<svg style="left:379.7px;top:175.15px" width="4" height="3" viewBox="0 0 4 3"><polygon points="0.3,0.3 3.7,0.3 2,2.6" fill="#2a2a2a" opacity="0.55"/></svg>
<span style="left:388.2px;top:173.5px;color:#fff;font-size:6.15px;font-family:'Liberation Mono', monospace;white-space:pre;line-height:8px;height:8px;font-weight:normal;transform:scaleY(1.22);-webkit-text-stroke:0.15px #fff;">to</span>
<div style="left:399.2px;top:174.5px;width:3px;height:4.199999999999989px;background:#4cbfe6;border-radius:1px;"></div>
<div style="left:401.2px;top:171px;width:36.19999999999999px;height:11.199999999999989px;background:#4cbfe6;border-radius:2px;"></div>
<div style="left:403.2px;top:172px;width:33.19999999999999px;height:9.199999999999989px;background:#d6f1fa;border-radius:2px;"></div>
<span style="left:407.2px;top:174.29999999999998px;color:#2a2a2a;font-size:6.15px;font-family:'Liberation Mono', monospace;white-space:pre;line-height:8px;height:8px;font-weight:normal;transform:scaleY(1.22);-webkit-text-stroke:0.15px #2a2a2a;">false</span>
<svg style="left:430.59999999999997px;top:175.4px" width="4" height="3" viewBox="0 0 4 3"><polygon points="0.3,0.3 3.7,0.3 2,2.6" fill="#2a2a2a" opacity="0.55"/></svg>
<div style="left:477.4px;top:106.25px;width:83.60000000000002px;height:11.5px;background:#d65cd6;border-radius:2.5px;box-shadow:0 0.7px 0 rgba(0,0,0,0.28);"></div>
<div style="left:477.4px;top:106.25px;width:9.5px;height:90.6px;background:#d65cd6;border-radius:2px;box-shadow:0 0.7px 0 rgba(0,0,0,0.28);"></div>
<div style="left:477.4px;top:188.5px;width:22.600000000000023px;height:8.4px;background:#d65cd6;border-radius:2px;box-shadow:0 0.7px 0 rgba(0,0,0,0.28);"></div>
<span style="left:481px;top:109px;color:#fff;font-size:6.15px;font-family:'Liberation Mono', monospace;white-space:pre;line-height:8px;height:8px;font-weight:normal;transform:scaleY(1.22);-webkit-text-stroke:0.15px #fff;">on</span>
<div style="left:491px;top:108.6px;width:40.5px;height:7.400000000000006px;background:#f3c4f3;border-radius:2px;"></div>
<span style="left:494.2px;top:110.0px;color:#2a2a2a;font-size:6.15px;font-family:'Liberation Mono', monospace;white-space:pre;line-height:8px;height:8px;font-weight:normal;transform:scaleY(1.22);-webkit-text-stroke:0.15px #2a2a2a;">button B</span>
<svg style="left:525.7px;top:111.1px" width="4" height="3" viewBox="0 0 4 3"><polygon points="0.3,0.3 3.7,0.3 2,2.6" fill="#2a2a2a" opacity="0.55"/></svg>
<div style="left:533.2px;top:108.6px;width:25.0px;height:7.400000000000006px;background:#f3c4f3;border-radius:2px;"></div>
<span style="left:536.4000000000001px;top:110.0px;color:#2a2a2a;font-size:6.15px;font-family:'Liberation Mono', monospace;white-space:pre;line-height:8px;height:8px;font-weight:normal;transform:scaleY(1.22);-webkit-text-stroke:0.15px #2a2a2a;">down</span>
<svg style="left:552.4000000000001px;top:111.1px" width="4" height="3" viewBox="0 0 4 3"><polygon points="0.3,0.3 3.7,0.3 2,2.6" fill="#2a2a2a" opacity="0.55"/></svg>
<div style="left:486.75px;top:117.5px;width:125.25px;height:16.5px;background:#4cbfe6;border-radius:2px;box-shadow:0 0.7px 0 rgba(0,0,0,0.28);"></div>
<div style="left:486.75px;top:117.5px;width:23.75px;height:72.5px;background:#4cbfe6;border-radius:2px;box-shadow:0 0.7px 0 rgba(0,0,0,0.28);"></div>
<div style="left:486.75px;top:184.5px;width:37.25px;height:6.3px;background:#4cbfe6;border-radius:2px;box-shadow:0 0.7px 0 rgba(0,0,0,0.28);"></div>
<div style="left:490.6px;top:121.5px;width:7.2px;height:7.2px;background:#2222ee;border-radius:1.6px;box-shadow:0 0 0 0.6px rgba(255,255,255,0.5);"></div>
<div style="left:492.1px;top:123.0px;width:4.2px;height:4.2px;border:1.1px solid #fff;border-radius:50%"></div>
<span style="left:503.5px;top:122px;color:#fff;font-size:6.15px;font-family:'Liberation Mono', monospace;white-space:pre;line-height:8px;height:8px;font-weight:normal;transform:scaleY(1.22);-webkit-text-stroke:0.15px #fff;">if</span>
<div style="left:520px;top:121px;width:0.8px;height:9px;background:#2e9fc7;border-radius:0px;"></div>
<div style="left:523.5px;top:118.8px;width:88.5px;height:15.2px;background:#4cbfe6;border-radius:2px;box-shadow:0 0.7px 0 rgba(0,0,0,0.28);box-shadow:inset 0 0 0 0.6px #2e9fc7;"></div>
<div style="left:526px;top:123.5px;width:4px;height:6px;background:#ff6680;border-radius:1px;box-shadow:0 0.7px 0 rgba(0,0,0,0.28);"></div>
<div style="left:526.5px;top:123.8px;width:4px;height:5.700000000000003px;background:#ff6680;border-radius:1px;box-shadow:0 0.7px 0 rgba(0,0,0,0.28);"></div>
<div style="left:529px;top:120.8px;width:41.5px;height:11.700000000000003px;background:#ff6680;border-radius:2px;box-shadow:0 0.7px 0 rgba(0,0,0,0.28);"></div>
<div style="left:532.5px;top:122.7px;width:36.200000000000045px;height:7.8999999999999915px;background:#ffd3da;border-radius:2px;"></div>
<span style="left:535.7px;top:124.35000000000001px;color:#2a2a2a;font-size:6.15px;font-family:'Liberation Mono', monospace;white-space:pre;line-height:8px;height:8px;font-weight:normal;transform:scaleY(1.22);-webkit-text-stroke:0.15px #2a2a2a;">health</span>
<svg style="left:562.9000000000001px;top:125.45px" width="4" height="3" viewBox="0 0 4 3"><polygon points="0.3,0.3 3.7,0.3 2,2.6" fill="#2a2a2a" opacity="0.55"/></svg>
<div style="left:573px;top:122.5px;width:15.5px;height:8.5px;background:#c4ecf9;border-radius:2px;"></div>
<span style="left:576.2px;top:124.45px;color:#2a2a2a;font-size:6.15px;font-family:'Liberation Mono', monospace;white-space:pre;line-height:8px;height:8px;font-weight:normal;transform:scaleY(1.22);-webkit-text-stroke:0.15px #2a2a2a;">=</span>
<svg style="left:582.7px;top:125.55px" width="4" height="3" viewBox="0 0 4 3"><polygon points="0.3,0.3 3.7,0.3 2,2.6" fill="#2a2a2a" opacity="0.55"/></svg>
<div style="left:587.5px;top:123.5px;width:4px;height:7px;background:#d2bdff;border-radius:1px;"></div>
<div style="left:590.5px;top:121px;width:16.5px;height:12px;background:#d2bdff;border-radius:2px;"></div>
<div style="left:593.0px;top:122.3px;width:13.0px;height:9.4px;background:#f1eaff;border-radius:1.5px;"></div>
<span style="left:598.15px;top:124.5px;color:#2a2a2a;font-size:6.15px;font-family:'Liberation Mono', monospace;white-space:pre;line-height:8px;height:8px;font-weight:normal;transform:scaleY(1.22);-webkit-text-stroke:0.15px #2a2a2a;">1</span>
<span style="left:491.5px;top:138px;color:#fff;font-size:6.15px;font-family:'Liberation Mono', monospace;white-space:pre;line-height:8px;height:8px;font-weight:normal;transform:scaleY(1.22);-webkit-text-stroke:0.15px #fff;">then</span>
<div style="left:510.5px;top:135px;width:146.5px;height:16px;background:#ee2d52;border-radius:2px;box-shadow:0 0.7px 0 rgba(0,0,0,0.28);"></div>
<span style="left:515.5px;top:140.5px;color:#fff;font-size:6.15px;font-family:'Liberation Mono', monospace;white-space:pre;line-height:8px;height:8px;font-weight:normal;transform:scaleY(1.22);-webkit-text-stroke:0.15px #fff;">digital write pin</span>
<div style="left:580.5px;top:139.5px;width:23.0px;height:7.699999999999989px;background:#f8b4c0;border-radius:2px;"></div>
<span style="left:583.7px;top:141.04999999999998px;color:#2a2a2a;font-size:6.15px;font-family:'Liberation Mono', monospace;white-space:pre;line-height:8px;height:8px;font-weight:normal;transform:scaleY(1.22);-webkit-text-stroke:0.15px #2a2a2a;">D13</span>
<svg style="left:597.7px;top:142.15px" width="4" height="3" viewBox="0 0 4 3"><polygon points="0.3,0.3 3.7,0.3 2,2.6" fill="#2a2a2a" opacity="0.55"/></svg>
<span style="left:606.2px;top:140.5px;color:#fff;font-size:6.15px;font-family:'Liberation Mono', monospace;white-space:pre;line-height:8px;height:8px;font-weight:normal;transform:scaleY(1.22);-webkit-text-stroke:0.15px #fff;">to</span>
<div style="left:617.2px;top:140.75px;width:3px;height:4.349999999999994px;background:#4cbfe6;border-radius:1px;"></div>
<div style="left:619.2px;top:137.25px;width:32.89999999999998px;height:11.349999999999994px;background:#4cbfe6;border-radius:2px;"></div>
<div style="left:621.2px;top:138.25px;width:29.899999999999977px;height:9.349999999999994px;background:#d6f1fa;border-radius:2px;"></div>
<span style="left:625.2px;top:140.625px;color:#2a2a2a;font-size:6.15px;font-family:'Liberation Mono', monospace;white-space:pre;line-height:8px;height:8px;font-weight:normal;transform:scaleY(1.22);-webkit-text-stroke:0.15px #2a2a2a;">true</span>
<svg style="left:645.3000000000001px;top:141.72500000000002px" width="4" height="3" viewBox="0 0 4 3"><polygon points="0.3,0.3 3.7,0.3 2,2.6" fill="#2a2a2a" opacity="0.55"/></svg>
<div style="left:510.5px;top:151px;width:128.5px;height:17px;background:#e3008c;border-radius:2px;box-shadow:0 0.7px 0 rgba(0,0,0,0.28);"></div>
<span style="left:515.5px;top:156.5px;color:#fff;font-size:6.15px;font-family:'Liberation Mono', monospace;white-space:pre;line-height:8px;height:8px;font-weight:normal;transform:scaleY(1.22);-webkit-text-stroke:0.15px #fff;">infrared send number</span>
<div style="left:594.4px;top:157.9px;width:3px;height:3.5px;background:#4c97ff;border-radius:1px;"></div>
<div style="left:596.4px;top:154.4px;width:36.80000000000007px;height:10.5px;background:#4c97ff;border-radius:2px;"></div>
<div style="left:598.4px;top:155.4px;width:33.80000000000007px;height:8.5px;background:#c3dbfb;border-radius:2px;"></div>
<span style="left:602.4px;top:157.35px;color:#2a2a2a;font-size:6.15px;font-family:'Liberation Mono', monospace;white-space:pre;line-height:8px;height:8px;font-weight:normal;transform:scaleY(1.22);-webkit-text-stroke:0.15px #2a2a2a;">orange</span>
<svg style="left:626.4000000000001px;top:158.45000000000002px" width="4" height="3" viewBox="0 0 4 3"><polygon points="0.3,0.3 3.7,0.3 2,2.6" fill="#2a2a2a" opacity="0.55"/></svg>
<div style="left:510.5px;top:168px;width:148.5px;height:17px;background:#ee2d52;border-radius:2px;box-shadow:0 0.7px 0 rgba(0,0,0,0.28);"></div>
<span style="left:515.5px;top:173.5px;color:#fff;font-size:6.15px;font-family:'Liberation Mono', monospace;white-space:pre;line-height:8px;height:8px;font-weight:normal;transform:scaleY(1.22);-webkit-text-stroke:0.15px #fff;">digital write pin</span>
<div style="left:580.5px;top:172.5px;width:23.0px;height:7.699999999999989px;background:#f8b4c0;border-radius:2px;"></div>
<span style="left:583.7px;top:174.04999999999998px;color:#2a2a2a;font-size:6.15px;font-family:'Liberation Mono', monospace;white-space:pre;line-height:8px;height:8px;font-weight:normal;transform:scaleY(1.22);-webkit-text-stroke:0.15px #2a2a2a;">D13</span>
<svg style="left:597.7px;top:175.15px" width="4" height="3" viewBox="0 0 4 3"><polygon points="0.3,0.3 3.7,0.3 2,2.6" fill="#2a2a2a" opacity="0.55"/></svg>
<span style="left:606.2px;top:173.5px;color:#fff;font-size:6.15px;font-family:'Liberation Mono', monospace;white-space:pre;line-height:8px;height:8px;font-weight:normal;transform:scaleY(1.22);-webkit-text-stroke:0.15px #fff;">to</span>
<div style="left:617.2px;top:174.5px;width:3px;height:4.199999999999989px;background:#4cbfe6;border-radius:1px;"></div>
<div style="left:619.2px;top:171px;width:36.19999999999993px;height:11.199999999999989px;background:#4cbfe6;border-radius:2px;"></div>
<div style="left:621.2px;top:172px;width:33.19999999999993px;height:9.199999999999989px;background:#d6f1fa;border-radius:2px;"></div>
<span style="left:625.2px;top:174.29999999999998px;color:#2a2a2a;font-size:6.15px;font-family:'Liberation Mono', monospace;white-space:pre;line-height:8px;height:8px;font-weight:normal;transform:scaleY(1.22);-webkit-text-stroke:0.15px #2a2a2a;">false</span>
<svg style="left:648.6px;top:175.4px" width="4" height="3" viewBox="0 0 4 3"><polygon points="0.3,0.3 3.7,0.3 2,2.6" fill="#2a2a2a" opacity="0.55"/></svg>
<div style="left:259.5px;top:233.5px;width:156.75px;height:11.8px;background:#e3008c;border-radius:2.5px;box-shadow:0 0.7px 0 rgba(0,0,0,0.28);"></div>
<div style="left:259.5px;top:233.5px;width:9.3px;height:162px;background:#e3008c;border-radius:2px;box-shadow:0 0.7px 0 rgba(0,0,0,0.28);"></div>
<div style="left:264px;top:235.8px;width:7.2px;height:7.2px;background:#5b2bd6;border-radius:1.6px;box-shadow:0 0 0 0.6px rgba(255,255,255,0.5);"></div>
<div style="left:265.5px;top:237.3px;width:4.2px;height:4.2px;border:1.1px solid #fff;border-radius:50%"></div>
<span style="left:276px;top:236.6px;color:#fff;font-size:6.15px;font-family:'Liberation Mono', monospace;white-space:pre;line-height:8px;height:8px;font-weight:normal;transform:scaleY(1.22);-webkit-text-stroke:0.15px #fff;">on infrared received</span>
<div style="left:351px;top:235.8px;width:62.80000000000001px;height:7.399999999999977px;background:#f5b6dc;border-radius:2px;"></div>
<span style="left:354.2px;top:237.2px;color:#2a2a2a;font-size:6.15px;font-family:'Liberation Mono', monospace;white-space:pre;line-height:8px;height:8px;font-weight:normal;transform:scaleY(1.22);-webkit-text-stroke:0.15px #2a2a2a;">receivedNumber</span>
<svg style="left:408.0px;top:238.3px" width="4" height="3" viewBox="0 0 4 3"><polygon points="0.3,0.3 3.7,0.3 2,2.6" fill="#2a2a2a" opacity="0.55"/></svg>
<div style="left:268.75px;top:245.3px;width:145.0px;height:16px;background:#ee2d52;border-radius:2px;box-shadow:0 0.7px 0 rgba(0,0,0,0.28);"></div>
<span style="left:273px;top:250.5px;color:#fff;font-size:6.15px;font-family:'Liberation Mono', monospace;white-space:pre;line-height:8px;height:8px;font-weight:normal;transform:scaleY(1.22);-webkit-text-stroke:0.15px #fff;">digital write pin</span>
<div style="left:338px;top:249.6px;width:23.19999999999999px;height:7.700000000000017px;background:#f8b4c0;border-radius:2px;"></div>
<span style="left:341.2px;top:251.14999999999998px;color:#2a2a2a;font-size:6.15px;font-family:'Liberation Mono', monospace;white-space:pre;line-height:8px;height:8px;font-weight:normal;transform:scaleY(1.22);-webkit-text-stroke:0.15px #2a2a2a;">D13</span>
<svg style="left:355.4px;top:252.25px" width="4" height="3" viewBox="0 0 4 3"><polygon points="0.3,0.3 3.7,0.3 2,2.6" fill="#2a2a2a" opacity="0.55"/></svg>
<span style="left:364px;top:250.5px;color:#fff;font-size:6.15px;font-family:'Liberation Mono', monospace;white-space:pre;line-height:8px;height:8px;font-weight:normal;transform:scaleY(1.22);-webkit-text-stroke:0.15px #fff;">to</span>
<div style="left:376px;top:251.1px;width:3px;height:4.400000000000006px;background:#4cbfe6;border-radius:1px;"></div>
<div style="left:378px;top:247.6px;width:30.80000000000001px;height:11.400000000000006px;background:#4cbfe6;border-radius:2px;"></div>
<div style="left:380px;top:248.6px;width:27.80000000000001px;height:9.400000000000006px;background:#d6f1fa;border-radius:2px;"></div>
<span style="left:384px;top:251.0px;color:#2a2a2a;font-size:6.15px;font-family:'Liberation Mono', monospace;white-space:pre;line-height:8px;height:8px;font-weight:normal;transform:scaleY(1.22);-webkit-text-stroke:0.15px #2a2a2a;">true</span>
<svg style="left:402.0px;top:252.10000000000002px" width="4" height="3" viewBox="0 0 4 3"><polygon points="0.3,0.3 3.7,0.3 2,2.6" fill="#2a2a2a" opacity="0.55"/></svg>
<div style="left:268.75px;top:261.3px;width:117.5px;height:16.2px;background:#4cbfe6;border-radius:2px;box-shadow:0 0.7px 0 rgba(0,0,0,0.28);"></div>
<div style="left:268.75px;top:261.3px;width:25.0px;height:35px;background:#4cbfe6;border-radius:2px;box-shadow:0 0.7px 0 rgba(0,0,0,0.28);"></div>
<div style="left:268.75px;top:290.8px;width:36.25px;height:5.5px;background:#4cbfe6;border-radius:2px;box-shadow:0 0.7px 0 rgba(0,0,0,0.28);"></div>
<div style="left:272.6px;top:265px;width:7.2px;height:7.2px;background:#2222ee;border-radius:1.6px;box-shadow:0 0 0 0.6px rgba(255,255,255,0.5);"></div>
<div style="left:274.1px;top:266.5px;width:4.2px;height:4.2px;border:1.1px solid #fff;border-radius:50%"></div>
<span style="left:285.5px;top:265.8px;color:#fff;font-size:6.15px;font-family:'Liberation Mono', monospace;white-space:pre;line-height:8px;height:8px;font-weight:normal;transform:scaleY(1.22);-webkit-text-stroke:0.15px #fff;">if</span>
<div style="left:302px;top:265px;width:0.8px;height:9px;background:#2e9fc7;border-radius:0px;"></div>
<div style="left:305px;top:262.2px;width:81.25px;height:15.3px;background:#4cbfe6;border-radius:2px;box-shadow:0 0.7px 0 rgba(0,0,0,0.28);box-shadow:inset 0 0 0 0.6px #2e9fc7;"></div>
<div style="left:307px;top:267px;width:4px;height:6px;background:#ff6680;border-radius:1px;box-shadow:0 0.7px 0 rgba(0,0,0,0.28);"></div>
<div style="left:307.5px;top:266.8px;width:4px;height:6.5px;background:#ff6680;border-radius:1px;box-shadow:0 0.7px 0 rgba(0,0,0,0.28);"></div>
<div style="left:310px;top:263.8px;width:35px;height:12.5px;background:#ff6680;border-radius:2px;box-shadow:0 0.7px 0 rgba(0,0,0,0.28);"></div>
<div style="left:313.5px;top:265.7px;width:29.69999999999999px;height:8.700000000000045px;background:#ffd3da;border-radius:2px;"></div>
<span style="left:316.7px;top:267.75px;color:#2a2a2a;font-size:6.15px;font-family:'Liberation Mono', monospace;white-space:pre;line-height:8px;height:8px;font-weight:normal;transform:scaleY(1.22);-webkit-text-stroke:0.15px #2a2a2a;">hits</span>
<svg style="left:337.4px;top:268.85px" width="4" height="3" viewBox="0 0 4 3"><polygon points="0.3,0.3 3.7,0.3 2,2.6" fill="#2a2a2a" opacity="0.55"/></svg>
<div style="left:347.5px;top:265.6px;width:16.30000000000001px;height:8.799999999999955px;background:#c4ecf9;border-radius:2px;"></div>
<span style="left:350.7px;top:267.7px;color:#2a2a2a;font-size:6.15px;font-family:'Liberation Mono', monospace;white-space:pre;line-height:8px;height:8px;font-weight:normal;transform:scaleY(1.22);-webkit-text-stroke:0.15px #2a2a2a;">=</span>
<svg style="left:358.0px;top:268.8px" width="4" height="3" viewBox="0 0 4 3"><polygon points="0.3,0.3 3.7,0.3 2,2.6" fill="#2a2a2a" opacity="0.55"/></svg>
<div style="left:364px;top:266.5px;width:4px;height:7.5px;background:#d2bdff;border-radius:1px;"></div>
<div style="left:367px;top:264px;width:18px;height:12.5px;background:#d2bdff;border-radius:2px;"></div>
<div style="left:369.5px;top:265.3px;width:14.5px;height:9.9px;background:#f1eaff;border-radius:1.5px;"></div>
<span style="left:375.4px;top:267.75px;color:#2a2a2a;font-size:6.15px;font-family:'Liberation Mono', monospace;white-space:pre;line-height:8px;height:8px;font-weight:normal;transform:scaleY(1.22);-webkit-text-stroke:0.15px #2a2a2a;">9</span>
<span style="left:273px;top:281.5px;color:#fff;font-size:6.15px;font-family:'Liberation Mono', monospace;white-space:pre;line-height:8px;height:8px;font-weight:normal;transform:scaleY(1.22);-webkit-text-stroke:0.15px #fff;">then</span>
<div style="left:293.75px;top:278.5px;width:81.25px;height:12.2px;background:#ff6680;border-radius:2px;box-shadow:0 0.7px 0 rgba(0,0,0,0.28);"></div>
<span style="left:297.5px;top:281.6px;color:#fff;font-size:6.15px;font-family:'Liberation Mono', monospace;white-space:pre;line-height:8px;height:8px;font-weight:normal;transform:scaleY(1.22);-webkit-text-stroke:0.15px #fff;">set</span>
<div style="left:310.5px;top:280.6px;width:32.0px;height:8.0px;background:#ffd0d8;border-radius:2px;"></div>
<span style="left:313.7px;top:282.3px;color:#2a2a2a;font-size:6.15px;font-family:'Liberation Mono', monospace;white-space:pre;line-height:8px;height:8px;font-weight:normal;transform:scaleY(1.22);-webkit-text-stroke:0.15px #2a2a2a;">health</span>
<svg style="left:336.7px;top:283.40000000000003px" width="4" height="3" viewBox="0 0 4 3"><polygon points="0.3,0.3 3.7,0.3 2,2.6" fill="#2a2a2a" opacity="0.55"/></svg>
<span style="left:346px;top:281.6px;color:#fff;font-size:6.15px;font-family:'Liberation Mono', monospace;white-space:pre;line-height:8px;height:8px;font-weight:normal;transform:scaleY(1.22);-webkit-text-stroke:0.15px #fff;">to</span>
<div style="left:358px;top:281.7px;width:4px;height:6.0px;background:#d2bdff;border-radius:1px;"></div>
<div style="left:361px;top:279.2px;width:14px;height:11.0px;background:#d2bdff;border-radius:2px;"></div>
<div style="left:363.5px;top:280.5px;width:10.5px;height:8.4px;background:#f1eaff;border-radius:1.5px;"></div>
<span style="left:367.4px;top:282.2px;color:#2a2a2a;font-size:6.15px;font-family:'Liberation Mono', monospace;white-space:pre;line-height:8px;height:8px;font-weight:normal;transform:scaleY(1.22);-webkit-text-stroke:0.15px #2a2a2a;">0</span>
<div style="left:268.75px;top:296.8px;width:124.64999999999998px;height:14.8px;background:#4cbfe6;border-radius:2px;box-shadow:0 0.7px 0 rgba(0,0,0,0.28);"></div>
<div style="left:268.75px;top:296.8px;width:24.44999999999999px;height:95.7px;background:#4cbfe6;border-radius:2px;box-shadow:0 0.7px 0 rgba(0,0,0,0.28);"></div>
<div style="left:268.75px;top:386px;width:37.5px;height:6.5px;background:#4cbfe6;border-radius:2px;box-shadow:0 0.7px 0 rgba(0,0,0,0.28);"></div>
<div style="left:268.75px;top:345.5px;width:36.75px;height:7.5px;background:#4cbfe6;border-radius:2px;"></div>
<div style="left:272.6px;top:300.2px;width:7.2px;height:7.2px;background:#2222ee;border-radius:1.6px;box-shadow:0 0 0 0.6px rgba(255,255,255,0.5);"></div>
<div style="left:274.1px;top:301.7px;width:4.2px;height:4.2px;border:1.1px solid #fff;border-radius:50%"></div>
<span style="left:285.5px;top:301px;color:#fff;font-size:6.15px;font-family:'Liberation Mono', monospace;white-space:pre;line-height:8px;height:8px;font-weight:normal;transform:scaleY(1.22);-webkit-text-stroke:0.15px #fff;">if</span>
<div style="left:302px;top:300px;width:0.8px;height:9px;background:#2e9fc7;border-radius:0px;"></div>
<div style="left:305px;top:297.2px;width:88.4px;height:14.2px;background:#4cbfe6;border-radius:2px;box-shadow:0 0.7px 0 rgba(0,0,0,0.28);box-shadow:inset 0 0 0 0.6px #2e9fc7;"></div>
<div style="left:307px;top:301.5px;width:4px;height:6px;background:#ff6680;border-radius:1px;box-shadow:0 0.7px 0 rgba(0,0,0,0.28);"></div>
<div style="left:307.5px;top:301.6px;width:4px;height:5.599999999999966px;background:#ff6680;border-radius:1px;box-shadow:0 0.7px 0 rgba(0,0,0,0.28);"></div>
<div style="left:310px;top:298.6px;width:42.5px;height:11.599999999999966px;background:#ff6680;border-radius:2px;box-shadow:0 0.7px 0 rgba(0,0,0,0.28);"></div>
<div style="left:313.5px;top:300.5px;width:37.19999999999999px;height:7.800000000000011px;background:#ffd3da;border-radius:2px;"></div>
<span style="left:316.7px;top:302.09999999999997px;color:#2a2a2a;font-size:6.15px;font-family:'Liberation Mono', monospace;white-space:pre;line-height:8px;height:8px;font-weight:normal;transform:scaleY(1.22);-webkit-text-stroke:0.15px #2a2a2a;">health</span>
<svg style="left:344.9px;top:303.2px" width="4" height="3" viewBox="0 0 4 3"><polygon points="0.3,0.3 3.7,0.3 2,2.6" fill="#2a2a2a" opacity="0.55"/></svg>
<div style="left:354px;top:300.2px;width:16px;height:8.400000000000034px;background:#c4ecf9;border-radius:2px;"></div>
<span style="left:357.2px;top:302.09999999999997px;color:#2a2a2a;font-size:6.15px;font-family:'Liberation Mono', monospace;white-space:pre;line-height:8px;height:8px;font-weight:normal;transform:scaleY(1.22);-webkit-text-stroke:0.15px #2a2a2a;">=</span>
<svg style="left:364.2px;top:303.2px" width="4" height="3" viewBox="0 0 4 3"><polygon points="0.3,0.3 3.7,0.3 2,2.6" fill="#2a2a2a" opacity="0.55"/></svg>
<div style="left:370.5px;top:301.1px;width:4px;height:6.7999999999999545px;background:#d2bdff;border-radius:1px;"></div>
<div style="left:373.5px;top:298.6px;width:16.5px;height:11.799999999999955px;background:#d2bdff;border-radius:2px;"></div>
<div style="left:376.0px;top:299.90000000000003px;width:13.0px;height:9.199999999999955px;background:#f1eaff;border-radius:1.5px;"></div>
<span style="left:381.15px;top:302.0px;color:#2a2a2a;font-size:6.15px;font-family:'Liberation Mono', monospace;white-space:pre;line-height:8px;height:8px;font-weight:normal;transform:scaleY(1.22);-webkit-text-stroke:0.15px #2a2a2a;">1</span>
<span style="left:273px;top:316px;color:#fff;font-size:6.15px;font-family:'Liberation Mono', monospace;white-space:pre;line-height:8px;height:8px;font-weight:normal;transform:scaleY(1.22);-webkit-text-stroke:0.15px #fff;">then</span>
<div style="left:293.2px;top:313.5px;width:213.3px;height:16.3px;background:#4c97ff;border-radius:2px;box-shadow:0 0.7px 0 rgba(0,0,0,0.28);"></div>
<div style="left:297.5px;top:317px;width:7.2px;height:7.2px;background:#2222ee;border-radius:1.6px;box-shadow:0 0 0 0.6px rgba(255,255,255,0.5);"></div>
<div style="left:299.0px;top:318.5px;width:4.2px;height:4.2px;border:1.1px solid #fff;border-radius:50%"></div>
<span style="left:309.5px;top:319px;color:#fff;font-size:6.15px;font-family:'Liberation Mono', monospace;white-space:pre;line-height:8px;height:8px;font-weight:normal;transform:scaleY(1.22);-webkit-text-stroke:0.15px #fff;">set pixel color at</span>
<div style="left:380.5px;top:318.5px;width:4px;height:6px;background:#ff6680;border-radius:1px;box-shadow:0 0.7px 0 rgba(0,0,0,0.28);"></div>
<div style="left:380.8px;top:318.2px;width:4px;height:6.300000000000011px;background:#ff6680;border-radius:1px;box-shadow:0 0.7px 0 rgba(0,0,0,0.28);"></div>
<div style="left:383.3px;top:315.2px;width:31.099999999999966px;height:12.300000000000011px;background:#ff6680;border-radius:2px;box-shadow:0 0.7px 0 rgba(0,0,0,0.28);"></div>
<div style="left:386.8px;top:317.09999999999997px;width:25.799999999999955px;height:8.500000000000057px;background:#ffd3da;border-radius:2px;"></div>
<span style="left:390.0px;top:319.05px;color:#2a2a2a;font-size:6.15px;font-family:'Liberation Mono', monospace;white-space:pre;line-height:8px;height:8px;font-weight:normal;transform:scaleY(1.22);-webkit-text-stroke:0.15px #2a2a2a;">hits</span>
<svg style="left:406.79999999999995px;top:320.15000000000003px" width="4" height="3" viewBox="0 0 4 3"><polygon points="0.3,0.3 3.7,0.3 2,2.6" fill="#2a2a2a" opacity="0.55"/></svg>
<span style="left:418.7px;top:319px;color:#fff;font-size:6.15px;font-family:'Liberation Mono', monospace;white-space:pre;line-height:8px;height:8px;font-weight:normal;transform:scaleY(1.22);-webkit-text-stroke:0.15px #fff;">to</span>
<div style="left:429.5px;top:318.5px;width:4px;height:6px;background:#ff6680;border-radius:1px;box-shadow:0 0.7px 0 rgba(0,0,0,0.28);"></div>
<div style="left:429.7px;top:318.2px;width:4px;height:6.300000000000011px;background:#ff6680;border-radius:1px;box-shadow:0 0.7px 0 rgba(0,0,0,0.28);"></div>
<div style="left:432.2px;top:315.2px;width:69.19999999999999px;height:12.300000000000011px;background:#ff6680;border-radius:2px;box-shadow:0 0.7px 0 rgba(0,0,0,0.28);"></div>
<div style="left:435.7px;top:317.09999999999997px;width:63.89999999999998px;height:8.500000000000057px;background:#ffd3da;border-radius:2px;"></div>
<span style="left:438.9px;top:319.05px;color:#2a2a2a;font-size:6.15px;font-family:'Liberation Mono', monospace;white-space:pre;line-height:8px;height:8px;font-weight:normal;transform:scaleY(1.22);-webkit-text-stroke:0.15px #2a2a2a;">receivedNumber</span>
<svg style="left:493.79999999999995px;top:320.15000000000003px" width="4" height="3" viewBox="0 0 4 3"><polygon points="0.3,0.3 3.7,0.3 2,2.6" fill="#2a2a2a" opacity="0.55"/></svg>
<div style="left:293.2px;top:329.8px;width:89.10000000000002px;height:16.5px;background:#ff6680;border-radius:2px;box-shadow:0 0.7px 0 rgba(0,0,0,0.28);"></div>
<span style="left:297.5px;top:335px;color:#fff;font-size:6.15px;font-family:'Liberation Mono', monospace;white-space:pre;line-height:8px;height:8px;font-weight:normal;transform:scaleY(1.22);-webkit-text-stroke:0.15px #fff;">change</span>
<div style="left:321.5px;top:333.5px;width:26.5px;height:9.0px;background:#ffd0d8;border-radius:2px;"></div>
<span style="left:324.7px;top:335.7px;color:#2a2a2a;font-size:6.15px;font-family:'Liberation Mono', monospace;white-space:pre;line-height:8px;height:8px;font-weight:normal;transform:scaleY(1.22);-webkit-text-stroke:0.15px #2a2a2a;">hits</span>
<svg style="left:342.2px;top:336.8px" width="4" height="3" viewBox="0 0 4 3"><polygon points="0.3,0.3 3.7,0.3 2,2.6" fill="#2a2a2a" opacity="0.55"/></svg>
<span style="left:351px;top:335px;color:#fff;font-size:6.15px;font-family:'Liberation Mono', monospace;white-space:pre;line-height:8px;height:8px;font-weight:normal;transform:scaleY(1.22);-webkit-text-stroke:0.15px #fff;">by</span>
<div style="left:362px;top:334.1px;width:4px;height:8.0px;background:#d2bdff;border-radius:1px;"></div>
<div style="left:365px;top:331.6px;width:15.5px;height:13.0px;background:#d2bdff;border-radius:2px;"></div>
<div style="left:367.5px;top:332.90000000000003px;width:12.0px;height:10.4px;background:#f1eaff;border-radius:1.5px;"></div>
<span style="left:372.15px;top:335.6px;color:#2a2a2a;font-size:6.15px;font-family:'Liberation Mono', monospace;white-space:pre;line-height:8px;height:8px;font-weight:normal;transform:scaleY(1.22);-webkit-text-stroke:0.15px #2a2a2a;">1</span>
<span style="left:273px;top:355.8px;color:#fff;font-size:6.15px;font-family:'Liberation Mono', monospace;white-space:pre;line-height:8px;height:8px;font-weight:normal;transform:scaleY(1.22);-webkit-text-stroke:0.15px #fff;">else</span>
<div style="left:292.8px;top:352.5px;width:119.19999999999999px;height:17px;background:#4c97ff;border-radius:2px;box-shadow:0 0.7px 0 rgba(0,0,0,0.28);"></div>
<div style="left:297.3px;top:355.5px;width:7.2px;height:7.2px;background:#2222ee;border-radius:1.6px;box-shadow:0 0 0 0.6px rgba(255,255,255,0.5);"></div>
<div style="left:298.8px;top:357.0px;width:4.2px;height:4.2px;border:1.1px solid #fff;border-radius:50%"></div>
<span style="left:310px;top:358px;color:#fff;font-size:6.15px;font-family:'Liberation Mono', monospace;white-space:pre;line-height:8px;height:8px;font-weight:normal;transform:scaleY(1.22);-webkit-text-stroke:0.15px #fff;">set all pixels to</span>
<div style="left:377px;top:359.7px;width:3px;height:3.1999999999999886px;background:#c2d9ff;border-radius:1px;"></div>
<div style="left:379px;top:356.2px;width:28.5px;height:10.199999999999989px;background:#c2d9ff;border-radius:2px;"></div>
<div style="left:381px;top:357.2px;width:25.5px;height:8.199999999999989px;background:#eef4fc;border-radius:2px;"></div>
<span style="left:385px;top:358.99999999999994px;color:#2a2a2a;font-size:6.15px;font-family:'Liberation Mono', monospace;white-space:pre;line-height:8px;height:8px;font-weight:normal;transform:scaleY(1.22);-webkit-text-stroke:0.15px #2a2a2a;">red</span>
<svg style="left:400.7px;top:360.09999999999997px" width="4" height="3" viewBox="0 0 4 3"><polygon points="0.3,0.3 3.7,0.3 2,2.6" fill="#2a2a2a" opacity="0.55"/></svg>
<div style="left:292.8px;top:369.5px;width:148.45px;height:16.8px;background:#f05a28;border-radius:2px;box-shadow:0 0.7px 0 rgba(0,0,0,0.28);"></div>
<span style="left:297.2px;top:375.2px;color:#fff;font-size:6.15px;font-family:'Liberation Mono', monospace;white-space:pre;line-height:8px;height:8px;font-weight:normal;transform:scaleY(1.22);-webkit-text-stroke:0.15px #fff;">play sound</span>
<div style="left:337.5px;top:374.5px;width:4.5px;height:7px;background:#f6b49c;border-radius:1px;"></div>
<div style="left:341.2px;top:372px;width:53.30000000000001px;height:12.5px;background:#fde3d8;border-radius:2px;box-shadow:inset 0 0 0 0.8px #e06a40;"></div>
<span style="left:344.4px;top:375.95px;color:#2a2a2a;font-size:6.15px;font-family:'Liberation Mono', monospace;white-space:pre;line-height:8px;height:8px;font-weight:normal;transform:scaleY(1.22);-webkit-text-stroke:0.15px #2a2a2a;">power down</span>
<svg style="left:388.7px;top:377.05px" width="4" height="3" viewBox="0 0 4 3"><polygon points="0.3,0.3 3.7,0.3 2,2.6" fill="#2a2a2a" opacity="0.55"/></svg>
<span style="left:399.5px;top:375.2px;color:#fff;font-size:6.15px;font-family:'Liberation Mono', monospace;white-space:pre;line-height:8px;height:8px;font-weight:normal;transform:scaleY(1.22);-webkit-text-stroke:0.15px #fff;">until done</span>
<div style="left:268.75px;top:392.5px;width:148.75px;height:3px;background:#ee2d52;border-radius:1px;box-shadow:0 0.7px 0 rgba(0,0,0,0.28);"></div>
<div style="left:378.75px;top:394.3px;width:35px;height:1.2px;background:#c7ecf8;border-radius:0px;"></div>
<div style="left:275.7px;top:45.2px;width:6px;height:2px;background:#40bf4a;border-radius:0 0 2px 2px"></div>
<div style="left:275.7px;top:62.0px;width:6px;height:2px;background:#4c97ff;border-radius:0 0 2px 2px"></div>
<div style="left:275.7px;top:85.3px;width:6px;height:2px;background:#ff6680;border-radius:0 0 2px 2px"></div>
<div style="left:275.75px;top:117.3px;width:6px;height:2px;background:#d65cd6;border-radius:0 0 2px 2px"></div>
<div style="left:299.5px;top:134.8px;width:6px;height:2px;background:#4cbfe6;border-radius:0 0 2px 2px"></div>
<div style="left:299.5px;top:150.8px;width:6px;height:2px;background:#ee2d52;border-radius:0 0 2px 2px"></div>
<div style="left:299.5px;top:167.8px;width:6px;height:2px;background:#e3008c;border-radius:0 0 2px 2px"></div>
<div style="left:299.5px;top:184.8px;width:6px;height:2px;background:#ee2d52;border-radius:0 0 2px 2px"></div>
<div style="left:275.75px;top:190.6px;width:6px;height:2px;background:#4cbfe6;border-radius:0 0 2px 2px"></div>
<div style="left:493.75px;top:117.3px;width:6px;height:2px;background:#d65cd6;border-radius:0 0 2px 2px"></div>
<div style="left:517.5px;top:134.8px;width:6px;height:2px;background:#4cbfe6;border-radius:0 0 2px 2px"></div>
<div style="left:517.5px;top:150.8px;width:6px;height:2px;background:#ee2d52;border-radius:0 0 2px 2px"></div>
<div style="left:517.5px;top:167.8px;width:6px;height:2px;background:#e3008c;border-radius:0 0 2px 2px"></div>
<div style="left:517.5px;top:184.8px;width:6px;height:2px;background:#ee2d52;border-radius:0 0 2px 2px"></div>
<div style="left:493.75px;top:190.6px;width:6px;height:2px;background:#4cbfe6;border-radius:0 0 2px 2px"></div>
<div style="left:275.75px;top:245.1px;width:6px;height:2px;background:#e3008c;border-radius:0 0 2px 2px"></div>
<div style="left:275.75px;top:261.1px;width:6px;height:2px;background:#ee2d52;border-radius:0 0 2px 2px"></div>
<div style="left:300.75px;top:278.3px;width:6px;height:2px;background:#4cbfe6;border-radius:0 0 2px 2px"></div>
<div style="left:300.75px;top:290.5px;width:6px;height:2px;background:#ff6680;border-radius:0 0 2px 2px"></div>
<div style="left:300.2px;top:313.3px;width:6px;height:2px;background:#4cbfe6;border-radius:0 0 2px 2px"></div>
<div style="left:300.2px;top:329.6px;width:6px;height:2px;background:#4c97ff;border-radius:0 0 2px 2px"></div>
<div style="left:300.2px;top:346.1px;width:6px;height:2px;background:#ff6680;border-radius:0 0 2px 2px"></div>
<div style="left:300.2px;top:352.3px;width:6px;height:2px;background:#4cbfe6;border-radius:0 0 2px 2px"></div>
<div style="left:300.2px;top:369.3px;width:6px;height:2px;background:#4c97ff;border-radius:0 0 2px 2px"></div>
<div style="left:300.2px;top:386.1px;width:6px;height:2px;background:#f05a28;border-radius:0 0 2px 2px"></div>
<div style="left:275.75px;top:392.3px;width:6px;height:2px;background:#4cbfe6;border-radius:0 0 2px 2px"></div>
</body></html>
